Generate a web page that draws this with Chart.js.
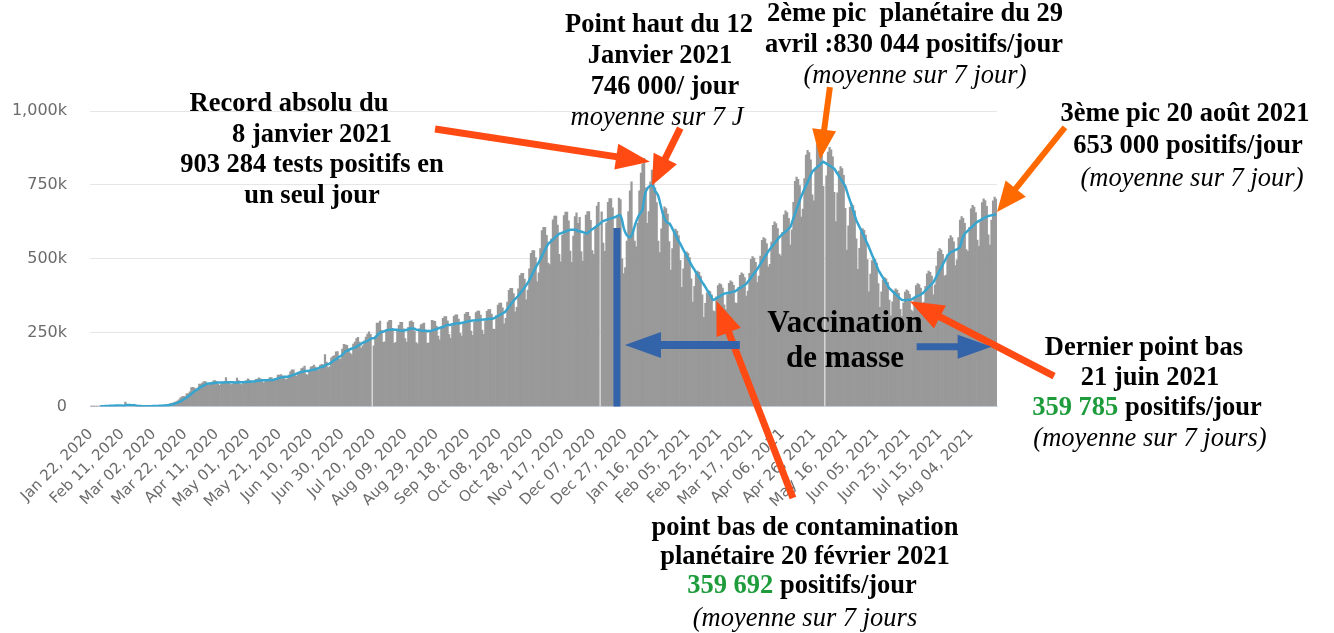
<!DOCTYPE html>
<html><head><meta charset="utf-8">
<script src="https://cdn.jsdelivr.net/npm/chart.js@4.4.1/dist/chart.umd.min.js"></script>
<style>
html,body{margin:0;padding:0;background:#fff;}
#wrap{position:relative;width:1334px;height:633px;overflow:hidden;background:#fff;}
#c{position:absolute;left:0;top:0;}
.t{position:absolute;transform:translate(-50%,-50%);white-space:nowrap;font-family:"Liberation Serif","Times New Roman",serif;font-weight:bold;font-size:26.5px;line-height:1;color:#000;}
.t.i{font-weight:normal;font-style:italic;}
.g{color:#1e9c3c;}
</style></head><body>
<div id="wrap"><canvas id="c" width="1334" height="633"></canvas></div>
<script>
// ---------- DATA (values in thousands) ----------
const startDate = '2020-01-22';
const xTickLabels = ['Jan 22, 2020','Feb 11, 2020','Mar 02, 2020','Mar 22, 2020','Apr 11, 2020','May 01, 2020','May 21, 2020','Jun 10, 2020','Jun 30, 2020','Jul 20, 2020','Aug 09, 2020','Aug 29, 2020','Sep 18, 2020','Oct 08, 2020','Oct 28, 2020','Nov 17, 2020','Dec 07, 2020','Dec 27, 2020','Jan 16, 2021','Feb 05, 2021','Feb 25, 2021','Mar 17, 2021','Apr 06, 2021','Apr 26, 2021','May 16, 2021','Jun 05, 2021','Jun 25, 2021','Jul 15, 2021','Aug 04, 2021'];
const xTickEvery = 20;
const yTickValues = [0,250,500,750,1000];

const dailyCases = [
0.1,0.3,0.3,0.6,0.7,
0.8,1.5,1.7,2.0,2.1,2.6,2.8,
3.2,3.9,3.7,3.2,3.4,2.7,2.6,
2.5,2.0,2.0,15.1,6.5,2.7,2.1,
2.0,1.9,1.8,0.5,1.0,0.9,0.7,
0.7,0.9,1.0,1.2,1.4,1.9,2.3,
1.9,2.5,2.3,2.9,3.8,4.2,4.0,
4.1,4.6,7.2,7.8,10.9,11.8,13.5,
15.9,18.6,22.8,29.5,32.6,34.1,33.9,
42.8,43.4,50.0,64.0,64.6,62.1,58.6,
63,76,76,80,84,84,78,
73,78,79,87,88,85,75,
72,77,78,85,98,83,79,
74,76,79,82,96,88,76,
74,78,80,88,94,89,84,
79,83,92,93,97,94,84,
80,84,89,93,98,98,90,
92,95,106,106,108,104,97,
91,94,106,118,124,124,105,
103,114,118,128,131,137,109,
106,121,133,136,140,133,128,
123,140,143,140,176,150,132,
135,165,170,172,185,186,160,
161,194,210,209,207,196,181,
176,211,218,230,234,218,198,
206,222,235,245,253,244,null,
205,238,282,282,289,258,217,
219,256,286,292,292,262,214,
217,258,275,285,285,263,230,
218,268,287,290,285,255,216,
212,263,276,280,282,257,215,
215,255,292,290,288,272,238,
226,268,298,304,304,290,243,
231,274,305,310,310,296,248,
238,281,313,319,319,305,255,
241,285,318,323,323,309,259,
244,289,322,328,328,313,262,
261,308,343,350,350,334,280,
298,353,393,400,400,382,320,
336,398,443,451,451,431,361,
394,466,518,528,528,504,422,
452,534,595,606,606,579,485,
480,567,632,644,644,614,515,
490,580,646,658,658,628,526,
488,577,643,655,620,640,524,
492,582,648,660,660,630,528,
515,609,678,691,null,659,553,
525,621,691,704,704,672,563,
540,645,705,700,500,450,470,
560,660,730,760,600,560,540,
620,730,790,820,840,740,620,
660,760,800,780,740,690,560,
521,601,663,676,670,651,558,
462,534,589,600,594,578,495,
403,466,514,523,518,504,432,
353,407,449,458,454,441,378,
302,349,385,392,389,378,324,
321,371,409,416,413,401,344,
328,378,417,425,421,410,351,
349,403,444,452,448,436,374,
391,451,498,507,502,488,419,
441,509,562,572,567,551,473,
481,556,613,625,619,602,516,
510,589,649,662,656,637,546,
598,691,762,776,769,748,641,
668,771,851,867,859,835,716,
696,803,886,903,894,869,745,
null,781,861,877,869,845,725,
626,723,797,812,805,782,671,
529,611,674,687,680,662,567,
464,535,591,602,596,580,497,
388,448,494,503,498,485,416,
336,388,428,436,432,420,360,
307,354,391,398,394,383,329,
304,351,387,395,391,380,326,
321,371,409,416,413,401,344,
353,407,449,458,454,441,378,
412,475,524,534,529,515,441,
445,514,567,578,572,557,477,
496,572,631,643,637,620,531,
525,606,669,681,675,656,563,
542,626,690,703,697,677,581,
546,631,696,709,702
];

const movingAvg7 = [
null,null,null,null,null,
null,0.6,0.8,1.1,1.3,1.6,1.9,
2.2,2.5,2.8,2.9,3.1,3.1,3.2,
3.2,3.0,2.8,4.5,4.9,4.9,4.7,
4.6,4.6,4.6,2.5,1.8,1.5,1.3,
1.1,1.0,0.9,1.0,1.0,1.2,1.3,
1.5,1.7,1.9,2.1,2.4,2.7,3.1,
3.4,3.7,4.4,5.1,6.1,7.2,8.6,
10.3,12.3,14.5,17.6,20.6,23.6,26.8,
30.7,34.2,38.1,42.8,47.4,51.4,55.1,
58.0,62.6,66.3,68.6,71.4,74.5,77.3,
78,78,79,79,80,80,81,
81,81,81,81,82,82,82,
82,82,82,81,81,82,82,
82,82,83,83,83,84,84,
85,85,86,87,87,88,89,
89,89,89,89,90,90,90,
92,93,95,97,98,99,101,
101,101,101,103,105,108,109,
111,114,115,117,118,120,120,
120,121,123,124,125,125,128,
130,133,134,135,140,142,143,
145,149,153,158,159,164,168,
171,175,181,186,189,190,194,
196,198,199,202,206,209,212,
216,217,220,222,225,229,231,
231,233,240,245,250,252,253,
255,258,258,260,260,261,260,
260,260,258,257,256,256,259,
259,261,263,264,264,263,260,
259,259,257,256,256,257,255,
256,255,257,259,260,262,264,
266,268,269,271,274,277,276,
277,278,279,281,282,281,282,
283,284,285,287,288,289,290,
291,291,292,292,293,293,294,
294,295,295,296,297,297,298,
300,303,306,309,312,315,318,
323,330,337,344,351,358,364,
369,375,382,389,396,403,410,
418,428,438,449,460,470,480,
488,498,509,520,531,541,551,
555,560,565,570,576,580,585,
586,588,590,592,594,596,598,
598,598,598,598,593,593,592,
590,588,586,586,592,596,600,
603,607,611,615,619,624,628,
629,631,633,635,637,638,640,
642,645,647,646,630,605,590,
580,575,573,578,592,610,626,
639,649,657,666,700,726,737,
743,747,749,743,729,722,713,
693,671,651,636,626,621,620,
612,602,592,581,570,560,551,
540,530,520,510,500,490,480,
471,463,454,446,437,429,420,
413,404,395,386,377,368,360,
363,366,369,372,376,379,382,
383,384,385,386,388,389,390,
394,397,401,404,408,411,415,
422,429,436,444,451,458,465,
474,482,491,499,508,516,525,
532,539,546,552,559,566,573,
578,583,588,592,597,602,607,
622,637,652,667,682,697,712,
724,736,748,759,771,783,795,
800,805,810,814,819,824,828,
825,822,818,815,812,808,805,
796,788,779,771,762,754,745,
729,712,696,680,663,647,630,
619,608,597,586,574,563,552,
539,526,513,501,488,475,462,
453,444,435,427,418,409,400,
395,390,385,380,375,370,365,
361,360,360,360,361,361,362,
365,368,371,374,376,379,382,
387,393,398,404,409,415,420,
430,440,450,460,470,480,490,
500,510,517,522,524,527,530,
532,535,540,560,575,585,590,
595,600,605,610,615,620,625,
628,631,634,637,640,642,645,
646,647,648,649,650
];

// ---------- ANNOTATIONS (anchored in data coordinates: [day index, value in k]) ----------
const arrows = [
  {from:[219,939],   to:[355.7,828], color:'#ff4a14', w:7, hl:34, hw:26},
  {from:[375,942],   to:[357,748],   color:'#ff4a14', w:7, hl:30, hw:26},
  {from:[470.2,1081],to:[464,836],   color:'#ff6a00', w:6, hl:30, hw:24},
  {from:[619.7,945], to:[576.5,658], color:'#ff6a00', w:6, hl:30, hw:26},
  {from:[446.7,-310],to:[398,358],   color:'#ff4a14', w:7, hl:34, hw:26},
  {from:[612.8,103], to:[521,356],   color:'#ff4a14', w:7, hl:34, hw:26},
  {from:[412.9,208], to:[339.8,208], color:'#3363a8', w:8, hl:36, hw:26},
  {from:[525.4,202], to:[573.1,202], color:'#3363a8', w:7, hl:34, hw:24}
];
const vaccStart = {at:334.7, from:0, to:604, color:'#3363a8', w:7};

const notes = [
  {t:'Point haut du 12', x:659, y:23},
  {t:'Janvier 2021', x:660, y:54},
  {t:'746 000/ jour', x:665, y:85},
  {t:'moyenne sur 7 J', x:657, y:116, it:true},
  {t:'2ème pic&nbsp; planétaire du 29', x:915, y:12},
  {t:'avril :830 044 positifs/jour', x:914, y:43},
  {t:'(moyenne sur 7 jour)', x:915, y:74, it:true},
  {t:'Record absolu du', x:289, y:102},
  {t:'8 janvier 2021', x:312, y:133},
  {t:'903 284 tests positifs en', x:312, y:163},
  {t:'un seul jour', x:312, y:194},
  {t:'3ème pic 20 août 2021', x:1185, y:112},
  {t:'653 000 positifs/jour', x:1188, y:144},
  {t:'(moyenne sur 7 jour)', x:1192, y:177, it:true},
  {t:'Vaccination', x:845, y:321, s:31},
  {t:'de masse', x:845, y:356, s:31},
  {t:'Dernier point bas', x:1144, y:346},
  {t:'21 juin 2021', x:1150, y:376},
  {t:'<span class="g">359 785</span> positifs/jour', x:1147, y:406},
  {t:'(moyenne sur 7 jours)', x:1150, y:437, it:true},
  {t:'point bas de contamination', x:805, y:526},
  {t:'planétaire 20 février 2021', x:805, y:555},
  {t:'<span class="g">359 692</span> positifs/jour', x:802, y:584},
  {t:'(moyenne sur 7 jours', x:805, y:617, it:true}
];

// ---------- BUILD ----------
const MONTHS = ['Jan','Feb','Mar','Apr','May','Jun','Jul','Aug','Sep','Oct','Nov','Dec'];
const categories = [];
{
  const d0 = new Date(startDate + 'T00:00:00Z');
  for (let i = 0; i < dailyCases.length; i++) {
    const d = new Date(d0.getTime() + i * 86400000);
    categories.push(MONTHS[d.getUTCMonth()] + ' ' + String(d.getUTCDate()).padStart(2,'0') + ', ' + d.getUTCFullYear());
  }
}

function drawArrow(ctx, x1, y1, x2, y2, color, w, hl, hw) {
  const a = Math.atan2(y2 - y1, x2 - x1);
  const bx = x2 - hl * Math.cos(a), by = y2 - hl * Math.sin(a);
  ctx.save();
  ctx.strokeStyle = color; ctx.fillStyle = color;
  ctx.lineWidth = w; ctx.lineCap = 'butt';
  ctx.beginPath(); ctx.moveTo(x1, y1); ctx.lineTo(bx + Math.cos(a), by + Math.sin(a)); ctx.stroke();
  ctx.beginPath();
  ctx.moveTo(x2, y2);
  ctx.lineTo(bx + hw / 2 * Math.sin(a), by - hw / 2 * Math.cos(a));
  ctx.lineTo(bx - hw / 2 * Math.sin(a), by + hw / 2 * Math.cos(a));
  ctx.closePath(); ctx.fill();
  ctx.restore();
}

const annotPlugin = {
  id: 'annot',
  afterDatasetsDraw(chart) {
    const ctx = chart.ctx, xs = chart.scales.x, ys = chart.scales.y;
    const vx = xs.getPixelForValue(vaccStart.at);
    ctx.save();
    ctx.strokeStyle = vaccStart.color; ctx.lineWidth = vaccStart.w;
    ctx.beginPath();
    ctx.moveTo(vx, ys.getPixelForValue(vaccStart.from));
    ctx.lineTo(vx, ys.getPixelForValue(vaccStart.to));
    ctx.stroke();
    ctx.restore();
    arrows.forEach(a => drawArrow(ctx,
      xs.getPixelForValue(a.from[0]), ys.getPixelForValue(a.from[1]),
      xs.getPixelForValue(a.to[0]), ys.getPixelForValue(a.to[1]),
      a.color, a.w, a.hl, a.hw));
  }
};

new Chart(document.getElementById('c'), {
  type: 'bar',
  data: {
    labels: categories,
    datasets: [
      {type:'line', data: movingAvg7, borderColor:'#38a5cf', borderWidth:2.5, pointRadius:0, tension:0.2, order:0, spanGaps:false},
      {type:'bar', data: dailyCases, backgroundColor:'#999999', borderWidth:0, barPercentage:1, categoryPercentage:1, order:1}
    ]
  },
  options: {
    responsive:false, animation:false, devicePixelRatio:1, events:[],
    layout:{padding:{left:0, right:337, top:111, bottom:0}},
    plugins:{legend:{display:false}, tooltip:{enabled:false}},
    scales:{
      x:{
        grid:{display:false},
        border:{display:true, color:'#ccd6eb', width:1},
        afterFit(s){ s.height = 226.5; },
        ticks:{
          autoSkip:false, maxRotation:45, minRotation:45, padding:11,
          color:'#6b6b6b', font:{family:'DejaVu Sans', size:15},
          callback(v){ return v % xTickEvery === 0 ? xTickLabels[v / xTickEvery] : null; }
        }
      },
      y:{
        min:0, max:1000,
        afterFit(s){ s.width = 90; },
        afterBuildTicks(s){ s.ticks = yTickValues.map(v => ({value:v})); },
        grid:{color:'#e6e6e6', lineWidth:1, drawTicks:false},
        border:{display:false},
        ticks:{
          padding:23, color:'#6b6b6b', font:{family:'DejaVu Sans', size:16},
          callback(v){ return v === 0 ? '0' : v.toLocaleString('en-US') + 'k'; }
        }
      }
    }
  },
  plugins:[annotPlugin]
});

const wrap = document.getElementById('wrap');
notes.forEach(n => {
  const d = document.createElement('div');
  d.className = 't' + (n.it ? ' i' : '');
  d.style.left = n.x + 'px'; d.style.top = n.y + 'px';
  if (n.s) d.style.fontSize = n.s + 'px';
  d.innerHTML = n.t;
  wrap.appendChild(d);
});
</script>
</body></html>
